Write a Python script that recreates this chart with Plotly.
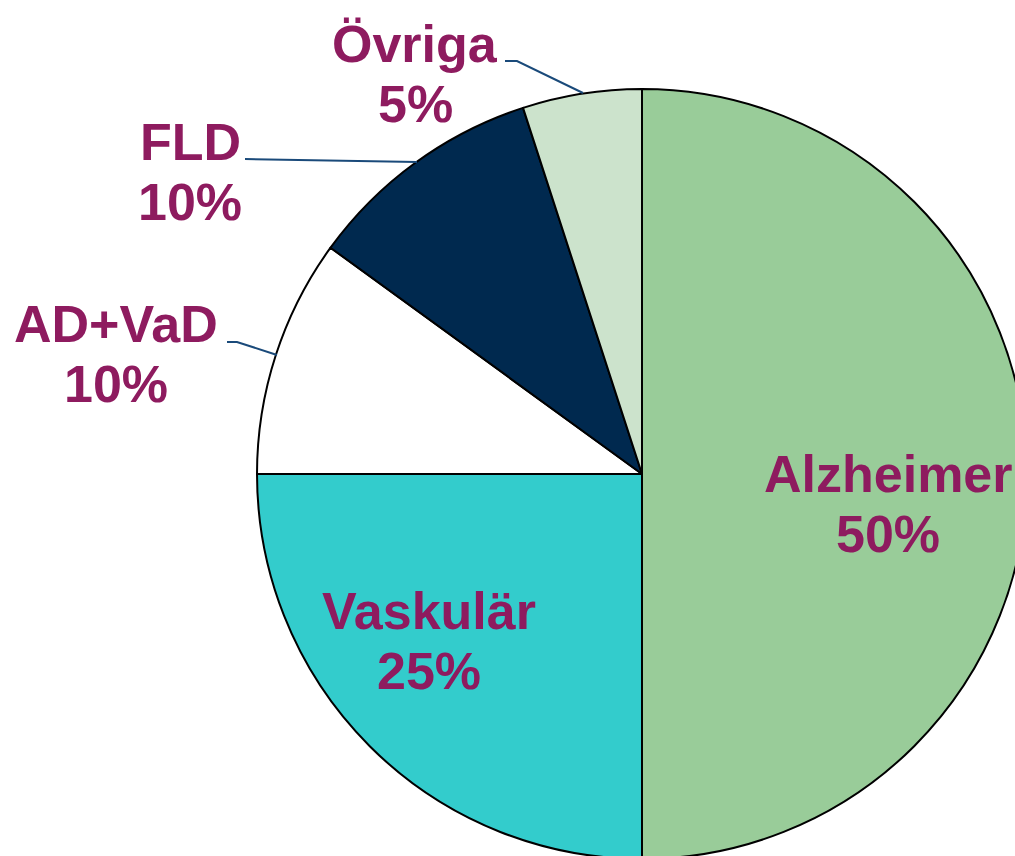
import plotly.graph_objects as go

labels = ["Alzheimer", "Vaskulär", "AD+VaD", "FLD", "Övriga"]
values = [50, 25, 10, 10, 5]
colors = ["#99CC99", "#33CCCC", "#FFFFFF", "#00294F", "#CCE3CC"]

W, H = 1040, 880
CX, CY, R = 642, 474, 385
TEXT_COLOR = "#8E1B5F"
LINE_COLOR = "#1A4A7A"
FONT = "Liberation Sans, Arial, sans-serif"

def px(x):
    return x / W

def py(y):
    return 1 - y / H

fig = go.Figure(go.Pie(
    labels=labels,
    values=values,
    marker=dict(colors=colors, line=dict(color="#000000", width=2)),
    sort=False,
    direction="clockwise",
    rotation=0,
    textinfo="none",
    hoverinfo="label+percent",
    domain=dict(x=[px(CX - R), px(CX + R)], y=[py(CY + R), py(CY - R)]),
))

# label placement: (center x, name baseline y) in pixels
label_pos = {
    "Alzheimer": (888, 492),
    "Vaskulär": (429, 629),
    "AD+VaD": (116, 342),
    "FLD": (190, 160),
    "Övriga": (415, 62),
}
annotations = []
for lab, val in zip(labels, values):
    x, yb = label_pos[lab]
    for txt, yy in ((lab, yb), (f"{val}%", yb + 60)):
        annotations.append(dict(
            x=px(x), y=py(yy - 18), xref="paper", yref="paper",
            text=f"<b>{txt}</b>", showarrow=False,
            xanchor="center", yanchor="middle",
            font=dict(family=FONT, size=52, color=TEXT_COLOR),
        ))

leaders = [
    [(505, 61), (517, 61), (583, 93)],
    [(245, 159), (417, 162)],
    [(227, 342), (237, 342), (277, 355)],
]
shapes = []
for pts in leaders:
    path = "M " + " L ".join(f"{px(x)},{py(y)}" for x, y in pts)
    shapes.append(dict(type="path", path=path, xref="paper", yref="paper",
                       line=dict(color=LINE_COLOR, width=2)))

fig.update_layout(
    width=W, height=H,
    margin=dict(l=0, r=0, t=0, b=0),
    paper_bgcolor="white", plot_bgcolor="white",
    showlegend=False,
    annotations=annotations,
    shapes=shapes,
)

fig.write_html(
    "out.html",
    config={"displayModeBar": False},
    post_script="document.body.style.margin='0';document.body.style.overflow='hidden';",
)
